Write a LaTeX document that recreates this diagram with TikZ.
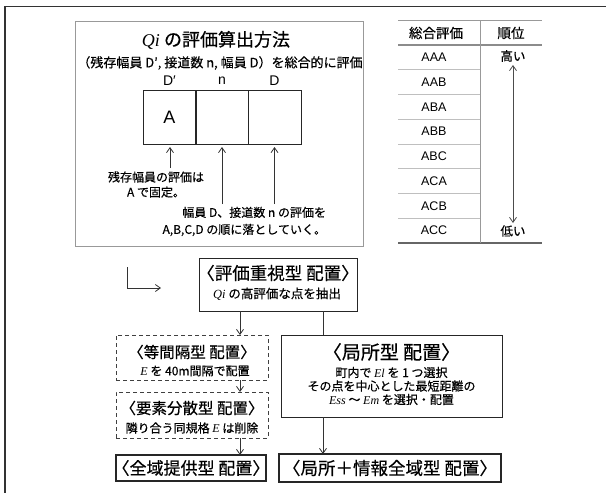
\documentclass[tikz,border=0pt]{standalone}
\usepackage{fontspec}
\setmainfont{Noto Sans CJK JP}[RawFeature={embolden=0.45}]
\newfontfamily\lsf{Liberation Serif}
\newfontfamily\ars{Liberation Sans}
\newcommand\mi[1]{{\lsf\itshape #1}}
\usetikzlibrary{arrows.meta}
\begin{document}
\begin{tikzpicture}[x=1pt,y=-1pt,
  every node/.style={inner sep=0pt,outer sep=0pt},
  arr/.style={-{Straight Barb[length=5pt,width=7pt]},line width=0.8pt,draw=black!80},
  plain/.style={line width=0.8pt,draw=black!80},
  solidbox/.style={draw=black!85,line width=1pt,rectangle},
  dashbox/.style={draw=black!75,line width=0.9pt,dashed,dash pattern=on 4pt off 3pt,rectangle},
  cell/.style={draw=black!85,line width=0.9pt,rectangle,minimum width=53pt,minimum height=54pt},
  rule/.style={draw=black!40,line width=0.6pt},
  tbtxt/.style={font=\ars\fontsize{12.5}{14}\selectfont}
]
\useasboundingbox (0,0) rectangle (606,493);
% outer frame
\draw[draw=black!80,line width=1.5pt] (5,493) -- (5,6.5) -- (606,6.5);

% ---- Qi method box ----
\node[draw=black!40,line width=0.8pt,rectangle,minimum width=288pt,minimum height=225pt] (qibox) at (219,133.5) {};
\node (title) at (216,40) {\fontsize{18}{20}\selectfont \mi{Qi} の評価算出方法};
\node (sub) at (220,63) {\fontsize{13}{15}\selectfont （残存幅員 D′, 接道数 n, 幅員 D）を総合的に評価};
\node[cell] (c1) at (169.5,117) {\ars\fontsize{18}{20}\selectfont A};
\node[cell] (c2) at (222,117) {};
\node[cell] (c3) at (274.5,117) {};
\node (l1) at (169.5,81) {\ars\fontsize{14}{16}\selectfont D′};
\node (l2) at (222,81) {\ars\fontsize{14}{16}\selectfont n};
\node (l3) at (274.5,81) {\ars\fontsize{14}{16}\selectfont D};
\node[align=center,font=\fontsize{12}{15}\selectfont] (note1) at (156,184.5) {残存幅員の評価は\\A で固定。};
\node[align=right,anchor=east,font=\fontsize{12}{17}\selectfont] (note2) at (326,221.5) {幅員 D、接道数 n の評価を\\A,B,C,D の順に落としていく。};
\coordinate (a1) at (170,168);
\coordinate (a2) at (222,204);
\coordinate (a3) at (274.5,204);
\draw[arr,shorten >=3pt] (a1) -- (a1 |- c1.south);
\draw[arr,shorten >=3pt] (a2) -- (a2 |- c2.south);
\draw[arr,shorten >=3pt] (a3) -- (a3 |- c3.south);

% ---- ranking table ----
\draw[rule] (398,20) -- (542,20);
\draw[draw=black!45,line width=1.2pt] (398,45) -- (542,45);
\foreach \i in {1,...,7} {
  \draw[draw=black!25,line width=0.6pt] (398,45+24.75*\i) -- (480,45+24.75*\i);
}
\draw[draw=black!60,line width=1.3pt] (398,243) -- (542,243);
\draw[rule] (480,20) -- (480,243);
\node[font=\fontsize{13.5}{15}\selectfont] (h1) at (436,33) {総合評価};
\node[font=\fontsize{13.5}{15}\selectfont] (h2) at (511,33) {順位};
\foreach \t [count=\i] in {AAA,AAB,ABA,ABB,ABC,ACA,ACB,ACC} {
  \node[tbtxt] (r\i) at (434,45+24.75*\i-12.4) {\t};
}
\node[font=\fontsize{12.5}{14}\selectfont] (hi) at (513,56) {高い};
\node[font=\fontsize{12.5}{14}\selectfont] (lo) at (513,231) {低い};
\coordinate (hs) at (513,65);
\coordinate (ls) at (513,223);
\draw[draw=black!70,line width=0.8pt,{Straight Barb[length=5pt,width=7pt]}-{Straight Barb[length=5pt,width=7pt]}] (hs) -- (ls);

% ---- lower flow ----
\coordinate (k0) at (127,267);
\coordinate (k1) at (127,288);
\coordinate (k2) at (161,288);
\draw[arr] (k0) -- (k1) -- (k2);

\node[solidbox,minimum width=158pt,minimum height=53pt] (jyu) at (278,284.5) {};
\node[font=\fontsize{17.5}{19}\selectfont] (jyu1) at (278,273) {〈評価重視型 配置〉};
\node[font=\fontsize{12.5}{14}\selectfont] (jyu2) at (277,294) {\mi{Qi} の高評価な点を抽出};

\node[dashbox,minimum width=152pt,minimum height=45pt] (tok) at (192,357.5) {};
\node[font=\fontsize{15.5}{17}\selectfont] (tok1) at (192,352) {〈等間隔型 配置〉};
\node[font=\fontsize{12}{14}\selectfont] (tok2) at (195,371) {\mi{E} を 40m間隔で配置};

\node[dashbox,minimum width=152pt,minimum height=46pt] (yos) at (192,415) {};
\node[font=\fontsize{15.5}{17}\selectfont] (yos1) at (192,408) {〈要素分散型 配置〉};
\node[font=\fontsize{12}{14}\selectfont] (yos2) at (192,428) {隣り合う同規格 \mi{E} は削除};

\node[solidbox,line width=1.2pt,minimum width=150pt,minimum height=26pt] (zen) at (191,468) {};
\node[font=\fontsize{17}{19}\selectfont] (zen1) at (191,468) {〈全域提供型 配置〉};

\node[solidbox,minimum width=221pt,minimum height=82pt] (kyo) at (391.5,376) {};
\node[font=\fontsize{19}{21}\selectfont] (kyo1) at (391.5,352) {〈局所型 配置〉};
\node[align=center,font=\fontsize{12}{13.5}\selectfont] (kyo2) at (391.5,386) {町内で \mi{El} を 1 つ選択\\その点を中心とした最短距離の\\\mi{Ess} 〜 \mi{Em} を選択・配置};

\node[solidbox,line width=1.2pt,minimum width=222pt,minimum height=28pt] (kj) at (390,468) {};
\node[font=\fontsize{17.5}{19}\selectfont] (kj1) at (390,468) {〈局所＋情報全域型 配置〉};

\coordinate (p1) at (240,311);
\coordinate (p2) at (323,311);
\coordinate (p3) at (323,417);
\draw[arr] (p1) -- (p1 |- tok.north);
\draw[plain] (p2) -- (p2 |- kyo.north);
\draw[arr] (tok.south -| p1) -- (p1 |- yos.north);
\draw[arr] (yos.south -| p1) -- (p1 |- zen.north);
\draw[arr] (p3) -- (p3 |- kj.north);
\end{tikzpicture}
\end{document}
